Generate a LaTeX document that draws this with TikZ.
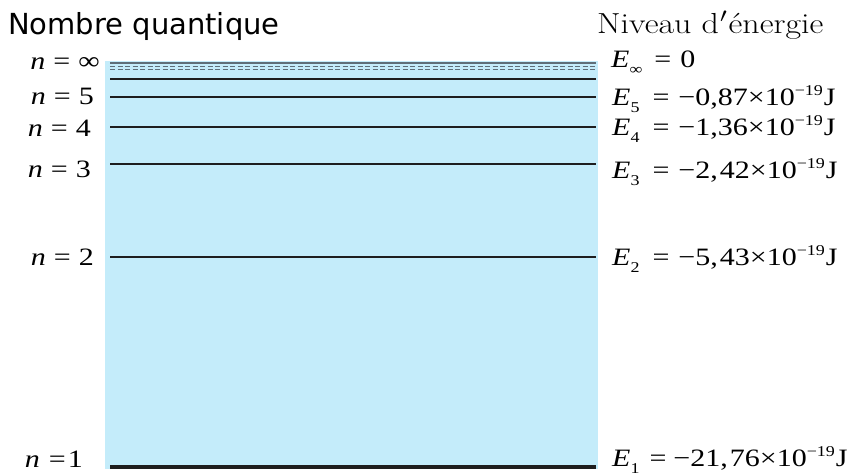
\documentclass[tikz,border=0pt]{standalone}
\usepackage{graphicx}
\usepackage{fontspec}
\newfontfamily\tms[FakeStretch=1.2]{Liberation Serif}
\newfontfamily\tmsE[FakeStretch=1.2]{Liberation Serif}
\newfontfamily\dvs{DejaVu Sans}
\definecolor{levelbg}{RGB}{196,236,250}
\definecolor{levelline}{RGB}{30,30,30}
\definecolor{limitline}{RGB}{95,110,120}
\newcommand\nlab[1]{{\tms\fontsize{25}{25}\selectfont\textit{n}\hspace{8pt}=\hspace{8pt}#1}}
\newcommand\elab[4]{{\tmsE\fontsize{25}{25}\selectfont\textit{E}\raisebox{-7pt}{\fontsize{15}{15}\selectfont #1}\hspace{#3}=\hspace{#4}#2}}
\newcommand\joule[1]{#1×10\raisebox{10pt}{\fontsize{15}{15}\selectfont −19}\hspace{1pt}J}
\tikzset{
  level/.style={draw=levelline,line width=2.5pt},
  groundlevel/.style={draw=levelline,line width=4.5pt},
  limitsolid/.style={draw=limitline,line width=1.2pt},
  limitdash/.style={draw=limitline,line width=1pt,dash pattern=on 5pt off 2.5pt},
  lefttxt/.style={anchor=base east,inner sep=0pt},
  righttxt/.style={anchor=base west,inner sep=0pt},
}
\begin{document}
\begin{tikzpicture}[x=1pt,y=-1pt]
\useasboundingbox (0,0) rectangle (851,475);
\fill[levelbg] (105,61) rectangle (598,469);
% titles
\node[anchor=base west,inner sep=0pt] (t1) at (8,34) {\dvs\fontsize{29}{29}\selectfont Nombre quantique};
\node[anchor=base west,inner sep=0pt] (t2) at (597,33) {\scalebox{1.17}[1]{\fontsize{29}{29}\selectfont Niveau d\kern1pt\raisebox{1pt}{$'$}\kern1pt énergie}};
% level end points
\foreach \nm/\yy in {li/63,da/66,db/69,l6/79,l5/97,l4/127,l3/164,l2/257,l1/467}{
  \coordinate (\nm a) at (110,\yy);
  \coordinate (\nm b) at (596,\yy);
}
\draw[limitsolid] (lia) -- (lib);
\draw[limitdash] (daa) -- (dab);
\draw[limitdash] (dba) -- (dbb);
\draw[level] (l6a) -- (l6b);
\draw[level] (l5a) -- (l5b);
\draw[level] (l4a) -- (l4b);
\draw[level] (l3a) -- (l3b);
\draw[level] (l2a) -- (l2b);
\draw[groundlevel] (l1a) -- (l1b);
% left labels
\node[lefttxt] (ninf) at (100,69) {\nlab{∞}};
\node[lefttxt] (n5) at (94,104) {\nlab{5}};
\node[lefttxt] (n4) at (91,136) {\nlab{4}};
\node[lefttxt] (n3) at (91,177) {\nlab{3}};
\node[lefttxt] (n2) at (94,265) {\nlab{2}};
\node[lefttxt] (n1) at (83,467) {{\tms\fontsize{25}{25}\selectfont\textit{n}\hspace{9pt}=\hspace{2pt}1}};
% right labels
\node[righttxt] (einf) at (611,67) {\elab{∞}{0}{12pt}{9pt}};
\node[righttxt] (e5) at (612,105) {\elab{5}{\joule{−0,87}}{13pt}{9pt}};
\node[righttxt] (e4) at (612,135) {\elab{4}{\joule{−1,36}}{13pt}{9pt}};
\node[righttxt] (e3) at (612,178) {\elab{3}{\joule{−2,\hspace{2pt}42}}{13pt}{9pt}};
\node[righttxt] (e2) at (612,265) {\elab{2}{\joule{−5,\hspace{2pt}43}}{13pt}{9pt}};
\node[righttxt] (e1) at (612,466) {\elab{1}{\joule{−21,\hspace{2pt}76}}{10pt}{7pt}};
\end{tikzpicture}
\end{document}
